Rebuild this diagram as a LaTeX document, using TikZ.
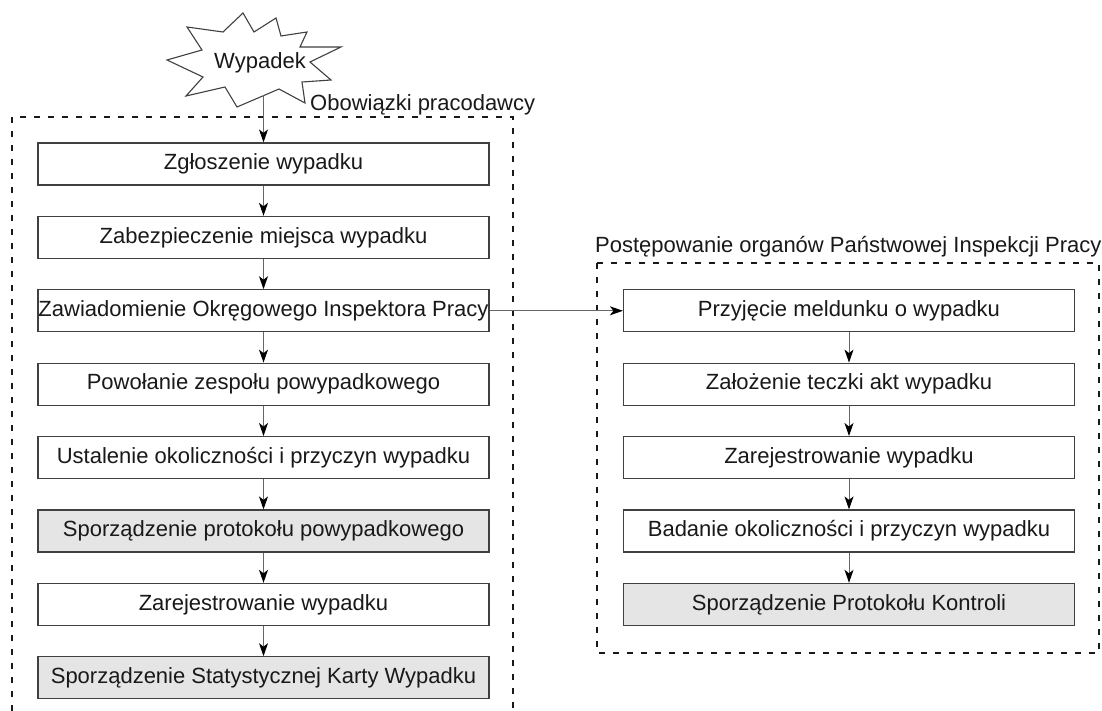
\documentclass[tikz,border=0pt]{standalone}
\usepackage{fontspec}
\setmainfont{Liberation Sans}
\usetikzlibrary{arrows.meta}
\begin{document}
\begin{tikzpicture}[x=1pt,y=-1pt,
  txt/.style={font=\fontsize{22}{26}\selectfont, text=black!90, inner sep=0pt},
  stepbox/.style={txt, draw=black!75, line width=1.2pt, minimum width=451pt, minimum height=42pt, fill=white},
  graybox/.style={stepbox, fill=black!10},
  conn/.style={draw=black!60, line width=1pt, -{Stealth[length=13pt,width=9pt,inset=3.5pt,color=black,fill=black]}},
  framestyle/.style={draw=black!90, dash pattern=on 6pt off 8pt, line width=1.2pt},
  starstyle/.style={draw=black!75, line width=1.1pt, fill=white, line join=miter}]
\useasboundingbox (0,0) rectangle (1102,711);
\fill[white] (0,0) rectangle (1102,711);

% frames
\draw[framestyle] (12,711) -- (12,117) -- (513,117) -- (513,711);
\draw[framestyle] (597,263) rectangle (1099,653);
\node[txt, anchor=base west] (t1) at (310,111) {Obowiązki pracodawcy};
\node[txt, anchor=base west] (t2) at (595,253) {Postępowanie organów Państwowej Inspekcji Pracy};

% star
\draw[starstyle] (243,13) -- (254,32) -- (276,18) -- (281,36) -- (307,32) -- (300,47)
  -- (341,47) -- (310,62) -- (331,80) -- (302,82) -- (305,103) -- (279,89)
  -- (237,107) -- (225,87) -- (186,96) -- (203,77) -- (167,60) -- (202,50)
  -- (187,27) -- (223,32) -- cycle;
\node[txt, anchor=base] (wyp) at (260,69) {Wypadek};
\coordinate (wypbottom) at (263.5,95.5);

% left column
\node[stepbox] (b1) at (263.5,164) {Zgłoszenie wypadku};
\node[stepbox] (b2) at (263.5,237.4) {Zabezpieczenie miejsca wypadku};
\node[stepbox] (b3) at (263.5,310.8) {Zawiadomienie Okręgowego Inspektora Pracy};
\node[stepbox] (b4) at (263.5,384.2) {Powołanie zespołu powypadkowego};
\node[stepbox] (b5) at (263.5,457.6) {Ustalenie okoliczności i przyczyn wypadku};
\node[graybox] (b6) at (263.5,531) {Sporządzenie protokołu powypadkowego};
\node[stepbox] (b7) at (263.5,604.4) {Zarejestrowanie wypadku};
\node[graybox] (b8) at (263.5,677.8) {Sporządzenie Statystycznej Karty Wypadku};

% right column
\node[stepbox] (r1) at (849,310.8) {Przyjęcie meldunku o wypadku};
\node[stepbox] (r2) at (849,384.2) {Założenie teczki akt wypadku};
\node[stepbox] (r3) at (849,457.6) {Zarejestrowanie wypadku};
\node[stepbox] (r4) at (849,531) {Badanie okoliczności i przyczyn wypadku};
\node[graybox] (r5) at (849,604.4) {Sporządzenie Protokołu Kontroli};

% connectors
\draw[conn] (wypbottom) -- (b1.north);
\draw[conn] (b1) -- (b2);
\draw[conn] (b2) -- (b3);
\draw[conn] (b3) -- (b4);
\draw[conn] (b4) -- (b5);
\draw[conn] (b5) -- (b6);
\draw[conn] (b6) -- (b7);
\draw[conn] (b7) -- (b8);
\draw[conn] (b3) -- (r1);
\draw[conn] (r1) -- (r2);
\draw[conn] (r2) -- (r3);
\draw[conn] (r3) -- (r4);
\draw[conn] (r4) -- (r5);
\end{tikzpicture}
\end{document}
